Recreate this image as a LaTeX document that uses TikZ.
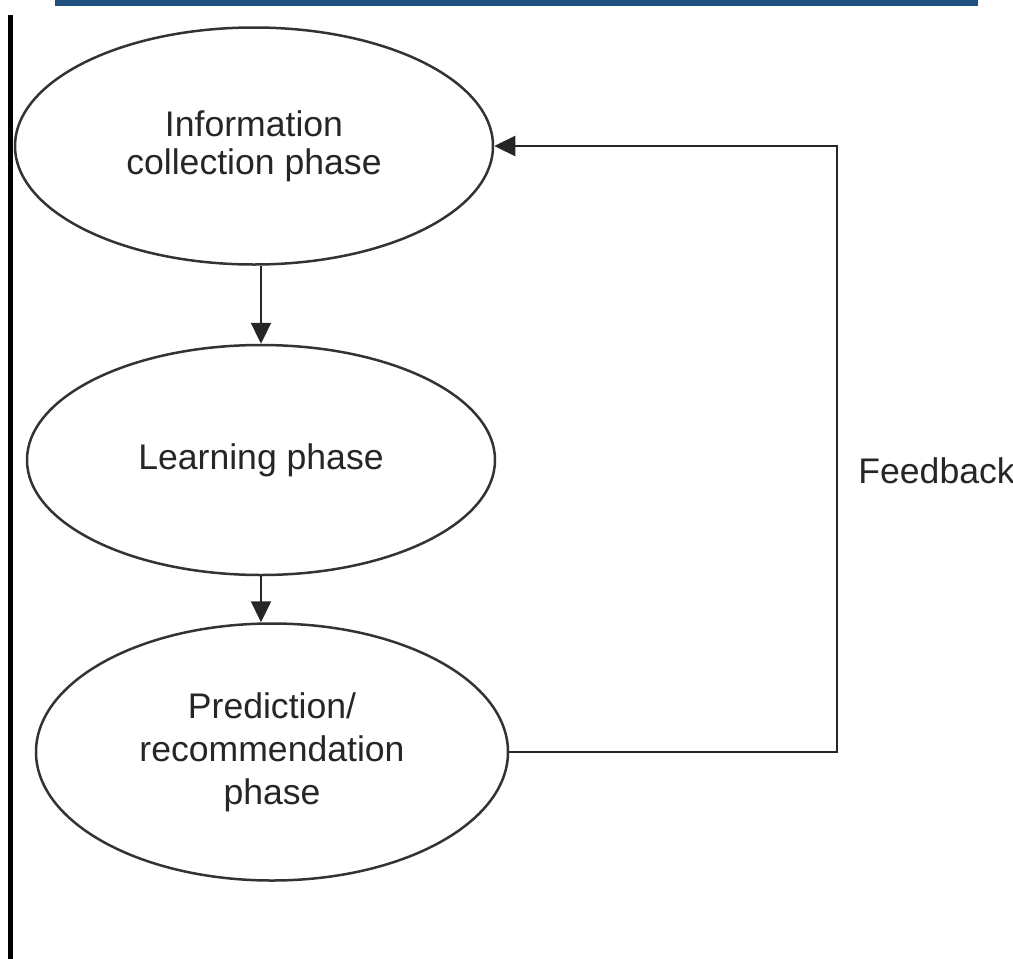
\documentclass[tikz,border=0pt]{standalone}
\usepackage{fontspec}
\setmainfont{Liberation Sans}
\usetikzlibrary{shapes.geometric,positioning,arrows.meta}
\definecolor{frameblue}{RGB}{31,78,128}
\begin{document}
\begin{tikzpicture}
[x=0.5pt, y=-0.5pt, font=\fontsize{17.8}{19}\selectfont,
% STYLES
% The phase style is used to draw each phase of the process
phase/.style={ellipse, draw=black!80, line width=1.25pt, inner sep=0pt, align=center, text=black!85},
% The flow style is used to draw the arrows between the phases
flow/.style={-{Triangle[length=10.5pt,width=10pt]}, line width=1.15pt, draw=black!85},
% The remark style is used for the label of the loop
remark/.style={inner sep=0pt, text=black!85}]

\useasboundingbox (0,0) rectangle (1013,959);

% Draw frame lines
\draw[frameblue, line width=3pt] (55,3) -- (978,3);
\draw[black, line width=2.5pt] (10.5,15) -- (10.5,959);

% Draw phases
\node [phase, minimum width=239pt, minimum height=118.5pt] (collect) at (254,146) {Information\\collection phase};
\node [phase, minimum width=234pt, minimum height=115pt] (learn) at (261,460) {Learning phase};
\node [phase, minimum width=236pt, minimum height=128.5pt, font=\fontsize{17.8}{21.5}\selectfont] (predict) at (272,752) {Prediction/\\recommendation\\phase};

% Feedback loop
\coordinate (fbcorner) at (837,752);
\coordinate (fbmid) at (837,471);
\node [remark, right=10.5pt of fbmid] (fblabel) {Feedback};

% Draw the links between phases
\draw[flow] (learn.north |- collect.south) -- (learn.north);
\draw[flow] (learn.south) -- (learn.south |- predict.north);
\draw[flow] (predict.east) -- (fbcorner) |- (collect.east);

\end{tikzpicture}
\end{document}
